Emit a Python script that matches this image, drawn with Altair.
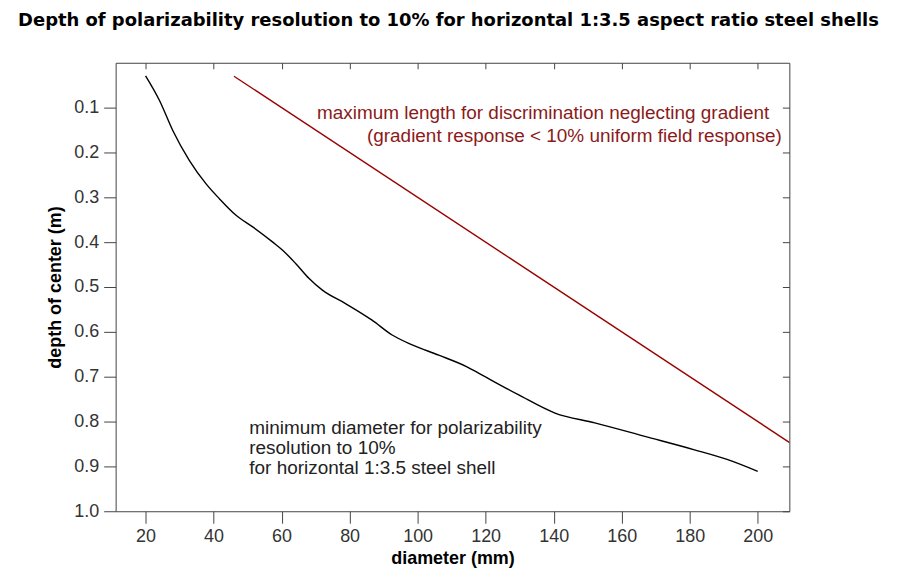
import altair as alt
import pandas as pd

# minimum diameter curve (black)
diam = [20, 24.1, 28.0, 32.9, 37.8, 41.7, 46.6, 51.5, 57.4, 60.3, 64.2, 68.1, 72.0,
        78.8, 86.6, 92.5, 98.4, 106.2, 114.5, 117.9, 129.6, 140.4, 152.1, 166.8,
        181.4, 191.2, 200]
depth = [0.029, 0.084, 0.151, 0.218, 0.270, 0.303, 0.340, 0.366, 0.400, 0.418, 0.448,
         0.481, 0.507, 0.537, 0.574, 0.607, 0.629, 0.652, 0.678, 0.692, 0.740, 0.781,
         0.803, 0.833, 0.863, 0.885, 0.911]

# maximum length line (red)
max_len = [46, 220]
max_depth = [0.03, 0.90]

x_ticks = [20, 40, 60, 80, 100, 120, 140, 160, 180, 200]
y_ticks = [0.1, 0.2, 0.3, 0.4, 0.5, 0.6, 0.7, 0.8, 0.9, 1.0]

red_text = ["maximum length for discrimination neglecting gradient",
            "(gradient response < 10% uniform field response)"]
red_text_x = [70.4, 85.1]
red_text_y = [0.111, 0.163]

black_text = ["minimum diameter for polarizability", "resolution to 10%",
              "for horizontal 1:3.5 steel shell"]
black_text_x = [50.5, 50.5, 50.5]
black_text_y = [0.814, 0.858, 0.903]

RED = "#8b1a1a"
FONT = "Liberation Sans"

xscale = alt.Scale(domain=[11.2, 209.3], nice=False, zero=False)
yscale = alt.Scale(domain=[0.0, 1.0], reverse=True, nice=False, zero=False)

df_b = pd.DataFrame({"d": diam, "z": depth})
df_r = pd.DataFrame({"d": max_len, "z": max_depth})
df_rt = pd.DataFrame({"d": red_text_x, "z": red_text_y, "t": red_text})
df_bt = pd.DataFrame({"d": black_text_x, "z": black_text_y, "t": black_text})

axis_common = dict(labelFont=FONT, labelFontSize=18, labelColor="#333333",
                   titleFont=FONT, titleFontSize=18, titleFontWeight="bold",
                   titleColor="#000000", tickColor="#444444", domain=False,
                   grid=False, tickSize=12)

black = alt.Chart(df_b).mark_line(color="black", strokeWidth=1.4,
                                  interpolate="monotone").encode(
    x=alt.X("d:Q", scale=xscale,
            axis=alt.Axis(orient="bottom", values=x_ticks, title="diameter (mm)",
                          labelPadding=4, titlePadding=4, **axis_common)),
    y=alt.Y("z:Q", scale=yscale,
            axis=alt.Axis(orient="left", values=y_ticks, format=".1f",
                          title="depth of center (m)", labelPadding=5,
                          titlePadding=9, **axis_common)),
)

red = alt.Chart(df_r).mark_line(color="#990000", strokeWidth=1.4, clip=True).encode(
    x=alt.X("d:Q", scale=xscale,
            axis=alt.Axis(orient="top", values=x_ticks, labels=False, title=None,
                          domain=False, grid=False, tickSize=6, offset=-6,
                          tickColor="#444444")),
    y=alt.Y("z:Q", scale=yscale,
            axis=alt.Axis(orient="right", values=y_ticks, labels=False, title=None,
                          domain=False, grid=False, tickSize=7, offset=-7,
                          tickColor="#444444")),
)

rtext = alt.Chart(df_rt).mark_text(align="left", baseline="middle", font=FONT,
                                   fontSize=19, color=RED).encode(
    x=alt.X("d:Q", scale=xscale, axis=None),
    y=alt.Y("z:Q", scale=yscale, axis=None),
    text="t:N",
)

btext = alt.Chart(df_bt).mark_text(align="left", baseline="middle", font=FONT,
                                   fontSize=19, color="#222222").encode(
    x=alt.X("d:Q", scale=xscale, axis=None),
    y=alt.Y("z:Q", scale=yscale, axis=None),
    text="t:N",
)

chart = alt.layer(black, red, rtext, btext).resolve_axis(
    x="independent", y="independent"
).properties(
    width=676, height=450,
    title=alt.TitleParams(
        "Depth of polarizability resolution to 10% for horizontal 1:3.5 aspect ratio steel shells",
        font="DejaVu Sans", fontSize=18, fontWeight="bold", color="#000000",
        anchor="middle", offset=32, dx=-4),
    autosize=alt.AutoSizeParams(type="none"),
    padding={"left": 108, "top": 54, "right": 100, "bottom": 60},
).configure_view(stroke="#444444", strokeWidth=1)

chart.save("out.html", embed_options={"renderer": "svg", "actions": False})
